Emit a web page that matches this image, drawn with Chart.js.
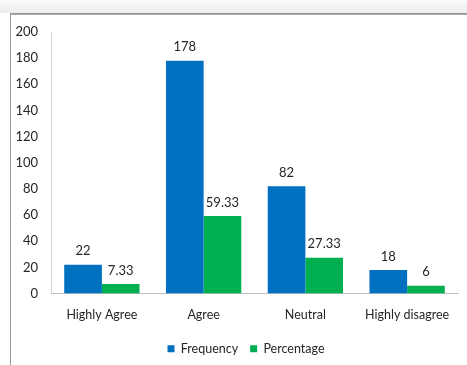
<!DOCTYPE html>
<html>
<head>
<meta charset="utf-8">
<script src="https://cdn.jsdelivr.net/npm/chart.js@4/dist/chart.umd.min.js"></script>
<style>
  html, body { margin: 0; padding: 0; background: #fff; }
  #wrap { position: relative; width: 467px; height: 365px; overflow: hidden; }
  #band { position: absolute; left: 0; top: 0; width: 467px; height: 13px;
          background: linear-gradient(#fbfbfb, #ececec); }
  #topline { position: absolute; left: 10px; top: 13px; width: 457px; height: 2px;
             background: linear-gradient(#8a8a8a, #b5b5b5); }
  #leftline { position: absolute; left: 10px; top: 13px; width: 1px; height: 352px; background: #9a9a9a; }
  canvas { position: absolute; left: 0; top: 0; }
</style>
</head>
<body>
<div id="wrap">
  <div id="band"></div>
  <div id="topline"></div>
  <div id="leftline"></div>
  <canvas id="myChart" width="467" height="365"></canvas>
</div>
<script>
let categories = ['Highly Agree', 'Agree', 'Neutral', 'Highly disagree'];
let frequency = [22, 178, 82, 18];
let percentage = [7.33, 59.33, 27.33, 6];

let fontFamily = "Lato, sans-serif";
let textColor = '#262626';

// writes each value a little above its bar
let valueLabels = {
    id: 'valueLabels',
    afterLayout(chart) {
        // legend sits a bit right of the canvas middle
        chart.legend.left += 17;
        chart.legend.right += 17;
    },
    afterDatasetsDraw(chart) {
        let ctx = chart.ctx;
        ctx.save();
        ctx.font = '13px ' + fontFamily;
        ctx.fillStyle = textColor;
        ctx.textAlign = 'center';
        ctx.textBaseline = 'bottom';
        chart.data.datasets.forEach((ds, i) => {
            chart.getDatasetMeta(i).data.forEach((bar, j) => {
                ctx.fillText(String(ds.data[j]), bar.x, bar.y - 7);
            });
        });
        ctx.restore();
    }
};

let ctx = document.getElementById('myChart').getContext('2d');
let myChart = new Chart(ctx, {
    type: 'bar',
    data: {
        labels: categories,
        datasets: [
            {label: 'Frequency', data: frequency, backgroundColor: '#0070C0'},
            {label: 'Percentage', data: percentage, backgroundColor: '#00B050'}
        ]
    },
    options: {
        responsive: false,
        animation: false,
        datasets: {bar: {categoryPercentage: 0.74, barPercentage: 1.0}},
        layout: {padding: {left: 0, right: 9, top: 32, bottom: 0}},
        plugins: {
            legend: {
                position: 'bottom',
                labels: {
                    boxWidth: 7, boxHeight: 7, padding: 12,
                    color: textColor,
                    font: {family: fontFamily, size: 12.5}
                }
            },
            tooltip: {enabled: false}
        },
        scales: {
            x: {
                grid: {display: false},
                border: {color: '#bfbfbf'},
                ticks: {color: textColor, padding: 6, font: {family: fontFamily, size: 12.5}},
                afterFit: (scale) => { scale.height = 37; }
            },
            y: {
                min: 0, max: 200,
                grid: {display: false, drawTicks: false},
                border: {color: '#d0d0d0'},
                ticks: {stepSize: 20, color: textColor, padding: 13, font: {family: fontFamily, size: 13}},
                afterFit: (scale) => { scale.width = 51; }
            }
        }
    },
    plugins: [valueLabels]
});
</script>
</body>
</html>
